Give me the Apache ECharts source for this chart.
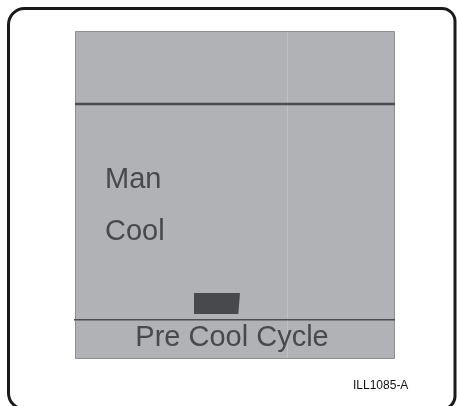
<!DOCTYPE html>
<html>
<head>
<meta charset="utf-8">
<script src="https://cdn.jsdelivr.net/npm/echarts@6/dist/echarts.min.js"></script>
<style>
html,body{margin:0;padding:0;background:#fff;}
#c{width:457px;height:406px;}
</style>
</head>
<body>
<div id="c"></div>
<script>
// Display content
const modeLabels = ['Man', 'Cool'];
const statusText = 'Pre Cool Cycle';
const figureId = 'ILL1085-A';

const FONT = '"Liberation Sans", Arial, Helvetica, sans-serif';
const TXT = '#48494c';
const PANEL = '#b1b2b5';

const chart = echarts.init(document.getElementById('c'), null, {renderer: 'canvas'});

const modeY = [179.5, 231.8];
const graphics = [
  // outer frame
  {type: 'rect', shape: {x: 8.5, y: 8.5, width: 446.5, height: 400.5, r: [16, 13, 13, 16]},
   style: {fill: '#fff', stroke: '#1a1a1a', lineWidth: 3}},
  // LCD panel
  {type: 'rect', shape: {x: 75.5, y: 31.5, width: 319, height: 327},
   style: {fill: PANEL, stroke: '#8f9093', lineWidth: 1}},
  // faint vertical seam
  {type: 'line', shape: {x1: 287.5, y1: 32, x2: 287.5, y2: 358},
   style: {stroke: '#bfc0c3', lineWidth: 1}},
  // top divider
  {type: 'line', shape: {x1: 75, y1: 104, x2: 395, y2: 104},
   style: {stroke: '#4b4c4f', lineWidth: 2.5}},
  // bottom divider
  {type: 'line', shape: {x1: 74, y1: 319.8, x2: 395, y2: 319.8},
   style: {stroke: '#4b4c4f', lineWidth: 1.6}},
  // indicator block
  {type: 'polygon', shape: {points: [[194, 293], [240, 293], [238.3, 314], [194, 314]]},
   style: {fill: '#48494c'}},
  // status text
  {type: 'text', x: 232, y: 338,
   style: {text: statusText, fill: TXT, font: '29px ' + FONT, align: 'center', verticalAlign: 'middle'}},
  // figure id
  {type: 'text', x: 353, y: 385.8,
   style: {text: figureId, fill: '#111', font: '12px ' + FONT, align: 'left', verticalAlign: 'middle'}}
];
modeLabels.forEach((t, i) => {
  graphics.push({type: 'text', x: 105, y: modeY[i],
    style: {text: t, fill: TXT, font: '29px ' + FONT, align: 'left', verticalAlign: 'middle'}});
});

chart.setOption({
  animation: false,
  backgroundColor: '#fff',
  graphic: {elements: graphics}
});
</script>
</body>
</html>
